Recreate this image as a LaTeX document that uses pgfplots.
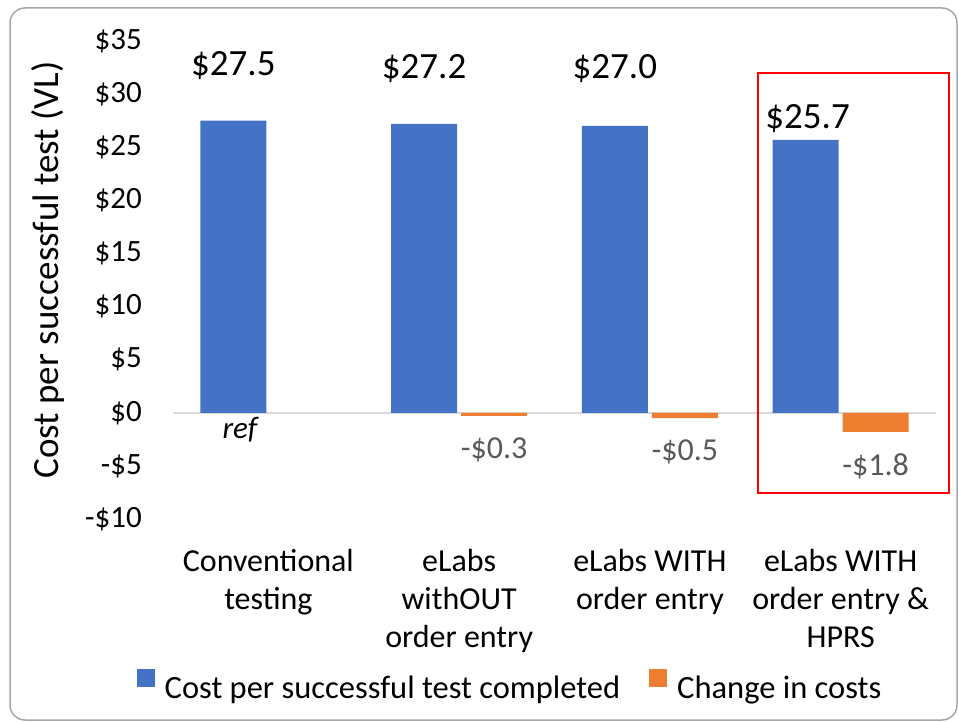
\documentclass[border=0pt]{standalone}
\usepackage{fontspec}
\setmainfont{Carlito}
\usepackage{pgfplots}
\usepackage{pgfplotstable}
\pgfplotsset{compat=1.18}
\definecolor{barblue}{HTML}{4472C4}
\definecolor{barorange}{HTML}{ED7D31}
\definecolor{zerogray}{HTML}{D9D9D9}
\definecolor{labgray}{HTML}{595959}
\definecolor{framegray}{HTML}{A6A6A6}

\pgfplotstableread{
x y dy dx
0 27.5 55 0
1 27.2 55 0
2 27.0 57 0
3 25.7 21 2
}\bluedata
\pgfplotstableread{
x y
1 -0.3
2 -0.5
3 -1.8
}\orangedata

\begin{document}
\begin{tikzpicture}[x=1pt,y=1pt]
\useasboundingbox (0,0) rectangle (958,721);
\draw[framegray, line width=1.5pt, rounded corners=15pt] (10,1) rectangle (957,713);
\begin{axis}[
  at={(173pt,202pt)}, anchor=south west,
  scale only axis, width=763pt, height=478pt,
  ymin=-10, ymax=35, xmin=-0.5, xmax=3.5,
  ybar=4pt, bar width=66pt,
  axis line style={draw=none}, major tick length=0pt,
  ytick={-10,-5,...,35},
  yticklabels={-\$10,-\$5,\$0,\$5,\$10,\$15,\$20,\$25,\$30,\$35},
  yticklabel style={anchor=east, inner sep=0pt, xshift=-31pt, font=\fontsize{31}{37}\selectfont},
  xtick={0,1,2,3},
  xticklabels={{Conventional\\testing},{eLabs\\withOUT\\order entry},{eLabs WITH\\order entry},{eLabs WITH\\order entry \&\\HPRS}},
  xticklabel style={anchor=north, inner sep=0pt, yshift=-30pt, align=center, font=\fontsize{32}{38}\selectfont},
  extra y ticks={0}, extra y tick labels={},
  extra y tick style={ymajorgrids=true, major grid style={draw=zerogray, line width=1.5pt}},
  every axis y label/.style={at={(axis description cs:-0.164,0.521)}, anchor=center, rotate=90},
  ylabel={Cost per successful test (VL)},
  ylabel style={font=\fontsize{37}{44}\selectfont},
  legend style={at={(axis description cs:0.4417,-0.349)}, anchor=center, draw=none,
    font=\fontsize{32.5}{38}\selectfont, legend columns=2,
    /tikz/every odd column/.append style={column sep=8pt},
    /tikz/every even column/.append style={column sep=27pt}},
  legend image code/.code={\fill[#1] (0pt,1pt) rectangle (18pt,19pt);},
]
\addplot[fill=barblue, draw=none,
  visualization depends on={\thisrow{dy}\as\labdy},
  visualization depends on={\thisrow{dx}\as\labdx},
  nodes near coords={\$\pgfmathprintnumber[fixed,fixed zerofill,precision=1,assume math mode=true]{\pgfplotspointmeta}},
  every node near coord/.append style={anchor=center, yshift=\labdy, xshift=\labdx, font=\fontsize{37}{42}\selectfont, text=black},
] table[x=x,y=y]{\bluedata};
\addlegendentry{Cost per successful test completed}
\addplot[fill=barorange, draw=none,
  point meta={abs(\thisrow{y})},
  nodes near coords={-\$\pgfmathprintnumber[fixed,fixed zerofill,precision=1,assume math mode=true]{\pgfplotspointmeta}},
  every node near coord/.append style={anchor=center, yshift=-34pt, font=\fontsize{32}{38}\selectfont, text=labgray},
] table[x=x,y=y]{\orangedata};
\addlegendentry{Change in costs}
\node[font=\fontsize{31}{36}\selectfont\itshape] at (axis cs:-0.149,-1.6) {ref};
\end{axis}
\draw[red, line width=2pt] (758,228) rectangle (949,648);
\end{tikzpicture}
\end{document}
